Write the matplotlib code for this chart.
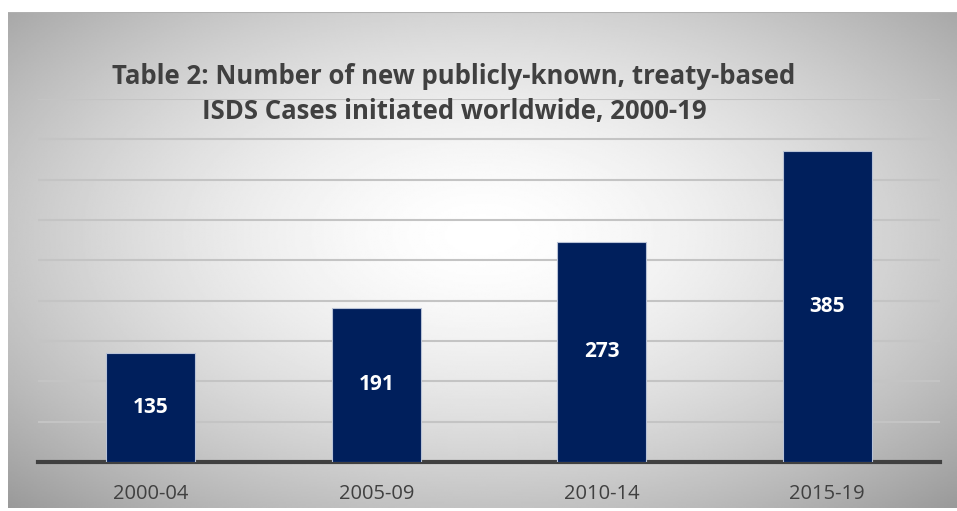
import numpy as np
import matplotlib.pyplot as plt

periods = ["2000-04", "2005-09", "2010-14", "2015-19"]
cases = [135, 191, 273, 385]

title = "Table 2: Number of new publicly-known, treaty-based\nISDS Cases initiated worldwide, 2000-19"

plt.rcParams['font.family'] = ['Open Sans', 'DejaVu Sans']

fig = plt.figure(figsize=(9.57, 5.11), dpi=100)

# radial gradient background panel
bg = fig.add_axes([8 / 957, 3 / 511, 949 / 957, 496 / 511])
yy, xx = np.mgrid[-1:1:300j, -1:1:600j]
r = np.sqrt((xx * 0.95) ** 2 + ((yy + 0.1) * 0.9) ** 2)
shade = 1.0 - 0.24 * np.clip(r, 0, 1.4) ** 1.6
bg.imshow(shade, cmap="gray", vmin=0, vmax=1, aspect="auto",
          extent=[0, 1, 0, 1], interpolation="bilinear")
bg.set_xlim(0, 1)
bg.set_ylim(0, 1)
bg.plot([0, 1], [1, 1], color="#b0b0b0", lw=1.5)
bg.axis("off")

ax = fig.add_axes([38 / 957, 1 - 462 / 511, 902 / 957, (462 - 99) / 511])
ax.patch.set_alpha(0)
x = np.arange(len(periods))
bars = ax.bar(x, cases, width=0.395, color="#001F5C", edgecolor="#b8c2d6",
              linewidth=0.8, zorder=3)
for xi, v in zip(x, cases):
    ax.text(xi, v / 2, str(v), ha="center", va="center", color="white",
            fontsize=15, fontweight="bold", zorder=4)

ax.set_xlim(-0.5, len(periods) - 0.5)
ax.set_ylim(0, 450)
ax.set_yticks(np.arange(50, 451, 50))
ax.yaxis.grid(True, color="#c4c4c4", lw=1.5)
ax.set_axisbelow(True)
ax.tick_params(left=False, labelleft=False, bottom=False)
ax.set_xticks(x)
ax.set_xticklabels(periods, fontsize=14.5, color="#404040")
ax.tick_params(axis="x", pad=12)
for s in ["top", "right", "left"]:
    ax.spines[s].set_visible(False)
ax.spines["bottom"].set_color("#404040")
ax.spines["bottom"].set_linewidth(3)

fig.text(454 / 957, 1 - 94 / 511, title, ha="center", va="center",
         fontsize=18.5, fontweight="bold", color="#404040", linespacing=1.4)

fig.savefig("out.png", dpi=100)
